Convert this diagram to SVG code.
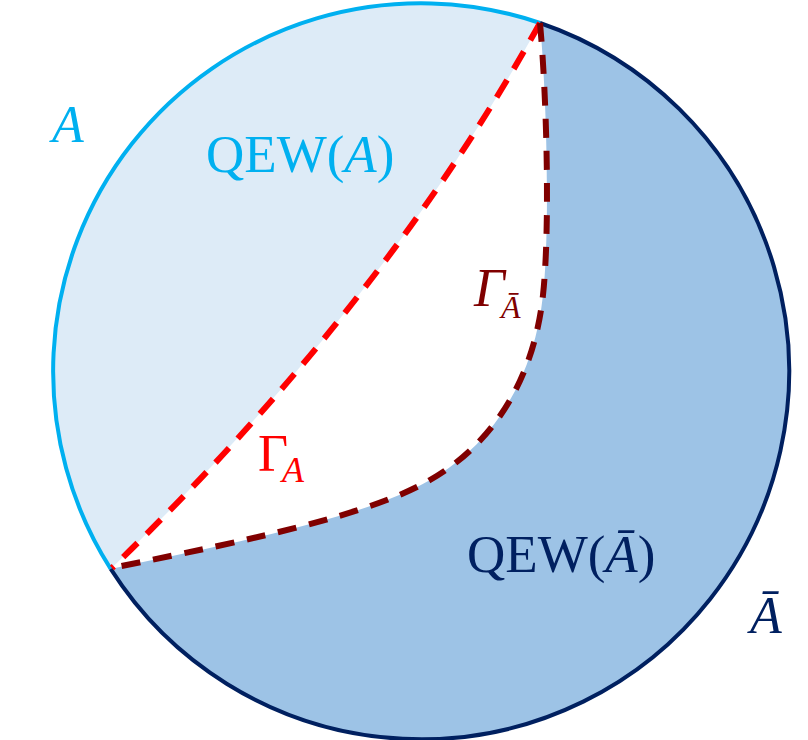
<svg xmlns="http://www.w3.org/2000/svg" width="808" height="740" viewBox="0 0 808 740">
<style>
.t{font-family:"Liberation Serif","DejaVu Serif",serif;}
.i{font-style:italic;}
.blue{fill:#00B0F0;}
.navy{fill:#002060;}
.red{fill:#FF0000;}
.dred{fill:#800000;}
</style>
<rect width="808" height="740" fill="#FFFFFF"/>
<g id="region-A">
<path d="M540,23 A368,368 0 0 0 110.7,568.9 Q384,304.5 540,23 Z" fill="#DDEBF7"/>
</g>
<g id="region-Abar">
<path d="M540,23 A368,368 0 1 1 110.7,568.9 C250,540 370,515 430,480 C500,440 535,370 543,295 C550,230 547,100 540,23 Z" fill="#9DC3E6"/>
</g>
<g id="boundary">
<path d="M540,23 A368,368 0 0 0 110.7,568.9" fill="none" stroke="#00B0F0" stroke-width="4"/>
<path d="M540,23 A368,368 0 1 1 110.7,568.9" fill="none" stroke="#002060" stroke-width="4"/>
</g>
<g id="connectors">
<path d="M540,23 Q384,304.5 112,568" fill="none" stroke="#FF0000" stroke-width="6" stroke-dasharray="20 13"/>
<path d="M540,23 C547,100 550,230 543,295 C535,370 500,440 430,480 C370,515 250,540 112,568" fill="none" stroke="#800000" stroke-width="6" stroke-dasharray="19 13"/>
</g>
<g id="label-A"><text class="t i blue" x="52" y="142" font-size="52">A</text></g>
<g id="label-QEW-A"><text class="t blue" x="206" y="172" font-size="53">QEW(<tspan class="i">A</tspan>)</text></g>
<g id="label-Gamma-A"><text class="t red" x="258" y="471" font-size="52">Γ<tspan class="i" x="282" y="482" font-size="36">A</tspan></text></g>
<g id="label-Gamma-Abar"><text class="t dred" x="474" y="306" font-size="54"><tspan class="i">Γ</tspan><tspan class="i" x="501" y="318" font-size="32">Ā</tspan></text></g>
<g id="label-QEW-Abar"><text class="t navy" x="467" y="572" font-size="53">QEW(<tspan class="i">Ā</tspan>)</text></g>
<g id="label-Abar"><text class="t i navy" x="750" y="633" font-size="52">Ā</text></g>
</svg>
